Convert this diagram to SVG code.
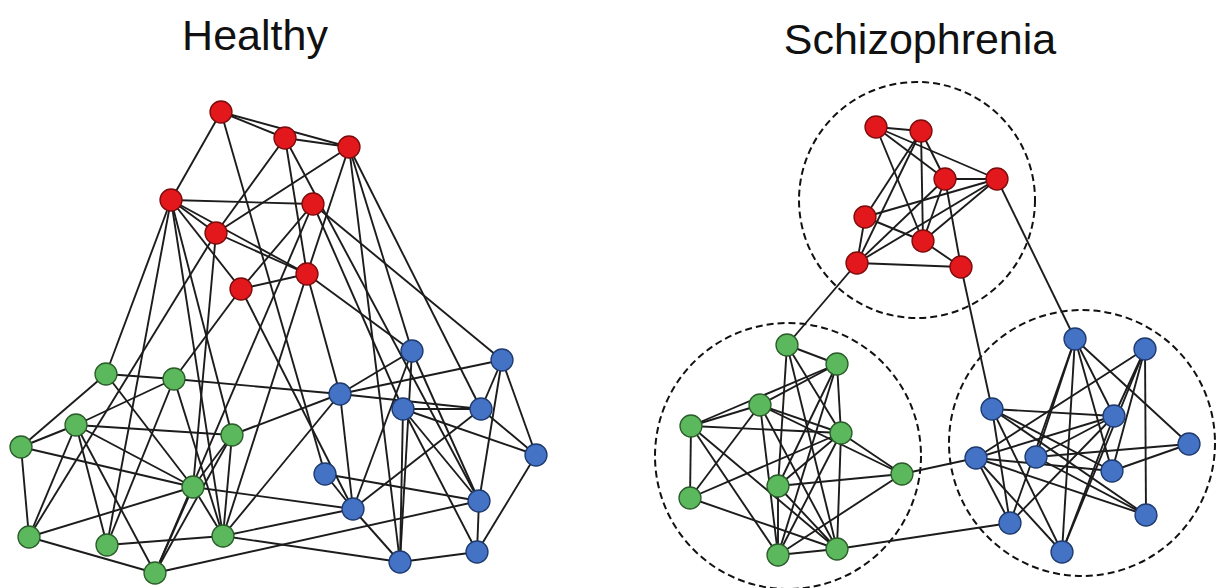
<svg xmlns="http://www.w3.org/2000/svg" width="1219" height="588" viewBox="0 0 1219 588">
<style>
.t{font-family:"Liberation Sans",Arial,sans-serif;font-size:43px;fill:#111}
.e line{stroke:#1c1c1c;stroke-width:1.9}
.r{fill:#e3181d;stroke:#7a0c0c;stroke-width:1.3}
.g{fill:#5cb85c;stroke:#2b5c2b;stroke-width:1.3}
.b{fill:#4472c4;stroke:#1e3a6e;stroke-width:1.3}
.c{fill:none;stroke:#111;stroke-width:2;stroke-dasharray:7 4}
</style>
<rect width="1219" height="588" fill="#fff"/>
<text class="t" x="255" y="50" text-anchor="middle">Healthy</text>
<text class="t" x="920" y="54" text-anchor="middle">Schizophrenia</text>
<g id="clusters">
<circle class="c" cx="917" cy="200" r="118"/>
<circle class="c" cx="788" cy="456" r="133"/>
<circle class="c" cx="1082" cy="443" r="133"/>
</g>
<g id="connectors" class="e">
<line x1="221" y1="112" x2="285" y2="138"/>
<line x1="221" y1="112" x2="349" y2="147"/>
<line x1="285" y1="138" x2="349" y2="147"/>
<line x1="221" y1="112" x2="171" y2="200"/>
<line x1="171" y1="200" x2="313" y2="204"/>
<line x1="171" y1="200" x2="216" y2="233"/>
<line x1="171" y1="200" x2="307" y2="274"/>
<line x1="216" y1="233" x2="307" y2="274"/>
<line x1="285" y1="138" x2="216" y2="233"/>
<line x1="349" y1="147" x2="216" y2="233"/>
<line x1="285" y1="138" x2="307" y2="274"/>
<line x1="349" y1="147" x2="307" y2="274"/>
<line x1="313" y1="204" x2="241" y2="289"/>
<line x1="307" y1="274" x2="241" y2="289"/>
<line x1="171" y1="200" x2="241" y2="289"/>
<line x1="221" y1="112" x2="325" y2="474"/>
<line x1="349" y1="147" x2="412" y2="351"/>
<line x1="349" y1="147" x2="481" y2="409"/>
<line x1="349" y1="147" x2="400" y2="562"/>
<line x1="313" y1="204" x2="502" y2="360"/>
<line x1="313" y1="204" x2="403" y2="409"/>
<line x1="307" y1="274" x2="412" y2="351"/>
<line x1="307" y1="274" x2="340" y2="394"/>
<line x1="241" y1="289" x2="353" y2="509"/>
<line x1="285" y1="138" x2="479" y2="501"/>
<line x1="171" y1="200" x2="106" y2="374"/>
<line x1="171" y1="200" x2="107" y2="545"/>
<line x1="171" y1="200" x2="223" y2="536"/>
<line x1="171" y1="200" x2="232" y2="435"/>
<line x1="216" y1="233" x2="29" y2="537"/>
<line x1="216" y1="233" x2="193" y2="487"/>
<line x1="241" y1="289" x2="174" y2="379"/>
<line x1="307" y1="274" x2="223" y2="536"/>
<line x1="313" y1="204" x2="155" y2="573"/>
<line x1="106" y1="374" x2="174" y2="379"/>
<line x1="106" y1="374" x2="21" y2="447"/>
<line x1="106" y1="374" x2="193" y2="487"/>
<line x1="76" y1="425" x2="21" y2="447"/>
<line x1="76" y1="425" x2="174" y2="379"/>
<line x1="76" y1="425" x2="232" y2="435"/>
<line x1="76" y1="425" x2="193" y2="487"/>
<line x1="76" y1="425" x2="29" y2="537"/>
<line x1="76" y1="425" x2="107" y2="545"/>
<line x1="76" y1="425" x2="155" y2="573"/>
<line x1="21" y1="447" x2="29" y2="537"/>
<line x1="21" y1="447" x2="193" y2="487"/>
<line x1="29" y1="537" x2="155" y2="573"/>
<line x1="29" y1="537" x2="193" y2="487"/>
<line x1="107" y1="545" x2="223" y2="536"/>
<line x1="107" y1="545" x2="174" y2="379"/>
<line x1="223" y1="536" x2="232" y2="435"/>
<line x1="223" y1="536" x2="174" y2="379"/>
<line x1="223" y1="536" x2="193" y2="487"/>
<line x1="155" y1="573" x2="193" y2="487"/>
<line x1="155" y1="573" x2="232" y2="435"/>
<line x1="193" y1="487" x2="232" y2="435"/>
<line x1="174" y1="379" x2="340" y2="394"/>
<line x1="232" y1="435" x2="340" y2="394"/>
<line x1="193" y1="487" x2="353" y2="509"/>
<line x1="223" y1="536" x2="353" y2="509"/>
<line x1="223" y1="536" x2="400" y2="562"/>
<line x1="155" y1="573" x2="479" y2="501"/>
<line x1="223" y1="536" x2="340" y2="394"/>
<line x1="412" y1="351" x2="340" y2="394"/>
<line x1="412" y1="351" x2="353" y2="509"/>
<line x1="412" y1="351" x2="400" y2="562"/>
<line x1="412" y1="351" x2="479" y2="501"/>
<line x1="502" y1="360" x2="481" y2="409"/>
<line x1="502" y1="360" x2="536" y2="455"/>
<line x1="502" y1="360" x2="479" y2="501"/>
<line x1="502" y1="360" x2="340" y2="394"/>
<line x1="340" y1="394" x2="481" y2="409"/>
<line x1="340" y1="394" x2="353" y2="509"/>
<line x1="403" y1="409" x2="481" y2="409"/>
<line x1="403" y1="409" x2="400" y2="562"/>
<line x1="403" y1="409" x2="479" y2="501"/>
<line x1="403" y1="409" x2="536" y2="455"/>
<line x1="403" y1="409" x2="477" y2="552"/>
<line x1="481" y1="409" x2="536" y2="455"/>
<line x1="481" y1="409" x2="353" y2="509"/>
<line x1="536" y1="455" x2="477" y2="552"/>
<line x1="325" y1="474" x2="353" y2="509"/>
<line x1="325" y1="474" x2="479" y2="501"/>
<line x1="353" y1="509" x2="400" y2="562"/>
<line x1="479" y1="501" x2="477" y2="552"/>
<line x1="400" y1="562" x2="477" y2="552"/>
<line x1="876" y1="127" x2="921" y2="131"/>
<line x1="876" y1="127" x2="945" y2="179"/>
<line x1="876" y1="127" x2="997" y2="179"/>
<line x1="876" y1="127" x2="923" y2="241"/>
<line x1="921" y1="131" x2="945" y2="179"/>
<line x1="921" y1="131" x2="923" y2="241"/>
<line x1="921" y1="131" x2="865" y2="217"/>
<line x1="921" y1="131" x2="857" y2="263"/>
<line x1="945" y1="179" x2="997" y2="179"/>
<line x1="945" y1="179" x2="857" y2="263"/>
<line x1="945" y1="179" x2="961" y2="267"/>
<line x1="945" y1="179" x2="923" y2="241"/>
<line x1="997" y1="179" x2="865" y2="217"/>
<line x1="997" y1="179" x2="923" y2="241"/>
<line x1="997" y1="179" x2="857" y2="263"/>
<line x1="865" y1="217" x2="923" y2="241"/>
<line x1="865" y1="217" x2="857" y2="263"/>
<line x1="923" y1="241" x2="961" y2="267"/>
<line x1="857" y1="263" x2="961" y2="267"/>
<line x1="857" y1="263" x2="787" y2="345"/>
<line x1="961" y1="267" x2="992" y2="409"/>
<line x1="997" y1="179" x2="1075" y2="339"/>
<line x1="902" y1="474" x2="976" y2="458"/>
<line x1="837" y1="549" x2="1010" y2="523"/>
<line x1="787" y1="345" x2="837" y2="364"/>
<line x1="787" y1="345" x2="778" y2="486"/>
<line x1="778" y1="486" x2="778" y2="555"/>
<line x1="787" y1="345" x2="837" y2="549"/>
<line x1="787" y1="345" x2="841" y2="433"/>
<line x1="837" y1="364" x2="760" y2="405"/>
<line x1="837" y1="364" x2="691" y2="426"/>
<line x1="837" y1="364" x2="841" y2="433"/>
<line x1="837" y1="364" x2="778" y2="555"/>
<line x1="837" y1="364" x2="778" y2="486"/>
<line x1="760" y1="405" x2="691" y2="426"/>
<line x1="760" y1="405" x2="841" y2="433"/>
<line x1="760" y1="405" x2="690" y2="498"/>
<line x1="760" y1="405" x2="778" y2="555"/>
<line x1="760" y1="405" x2="837" y2="549"/>
<line x1="760" y1="405" x2="902" y2="474"/>
<line x1="691" y1="426" x2="690" y2="498"/>
<line x1="691" y1="426" x2="841" y2="433"/>
<line x1="691" y1="426" x2="778" y2="555"/>
<line x1="691" y1="426" x2="837" y2="549"/>
<line x1="841" y1="433" x2="902" y2="474"/>
<line x1="841" y1="433" x2="690" y2="498"/>
<line x1="841" y1="433" x2="778" y2="486"/>
<line x1="841" y1="433" x2="778" y2="555"/>
<line x1="841" y1="433" x2="837" y2="549"/>
<line x1="902" y1="474" x2="778" y2="486"/>
<line x1="902" y1="474" x2="778" y2="555"/>
<line x1="778" y1="486" x2="837" y2="549"/>
<line x1="690" y1="498" x2="837" y2="549"/>
<line x1="778" y1="555" x2="837" y2="549"/>
<line x1="1075" y1="339" x2="1114" y2="416"/>
<line x1="1075" y1="339" x2="1112" y2="471"/>
<line x1="1075" y1="339" x2="1189" y2="444"/>
<line x1="1075" y1="339" x2="1062" y2="552"/>
<line x1="1075" y1="339" x2="1036" y2="457"/>
<line x1="1075" y1="339" x2="1010" y2="523"/>
<line x1="1145" y1="349" x2="1146" y2="515"/>
<line x1="1145" y1="349" x2="1114" y2="416"/>
<line x1="1145" y1="349" x2="1112" y2="471"/>
<line x1="1145" y1="349" x2="976" y2="458"/>
<line x1="1145" y1="349" x2="1062" y2="552"/>
<line x1="992" y1="409" x2="1114" y2="416"/>
<line x1="992" y1="409" x2="1112" y2="471"/>
<line x1="992" y1="409" x2="1146" y2="515"/>
<line x1="992" y1="409" x2="1010" y2="523"/>
<line x1="992" y1="409" x2="1062" y2="552"/>
<line x1="1114" y1="416" x2="976" y2="458"/>
<line x1="1114" y1="416" x2="1036" y2="457"/>
<line x1="1114" y1="416" x2="1010" y2="523"/>
<line x1="1114" y1="416" x2="1062" y2="552"/>
<line x1="1189" y1="444" x2="1036" y2="457"/>
<line x1="1189" y1="444" x2="1112" y2="471"/>
<line x1="976" y1="458" x2="1146" y2="515"/>
<line x1="976" y1="458" x2="1112" y2="471"/>
<line x1="976" y1="458" x2="1062" y2="552"/>
<line x1="976" y1="458" x2="1010" y2="523"/>
<line x1="1036" y1="457" x2="1146" y2="515"/>
</g>
<g id="nodes">
<g id="hR1"><circle class="r" cx="221" cy="112" r="11"/></g>
<g id="hR2"><circle class="r" cx="285" cy="138" r="11"/></g>
<g id="hR3"><circle class="r" cx="349" cy="147" r="11"/></g>
<g id="hR4"><circle class="r" cx="171" cy="200" r="11"/></g>
<g id="hR5"><circle class="r" cx="313" cy="204" r="11"/></g>
<g id="hR6"><circle class="r" cx="216" cy="233" r="11"/></g>
<g id="hR7"><circle class="r" cx="307" cy="274" r="11"/></g>
<g id="hR8"><circle class="r" cx="241" cy="289" r="11"/></g>
<g id="hG1"><circle class="g" cx="106" cy="374" r="11"/></g>
<g id="hG2"><circle class="g" cx="174" cy="379" r="11"/></g>
<g id="hG3"><circle class="g" cx="76" cy="425" r="11"/></g>
<g id="hG4"><circle class="g" cx="21" cy="447" r="11"/></g>
<g id="hG5"><circle class="g" cx="232" cy="435" r="11"/></g>
<g id="hG6"><circle class="g" cx="193" cy="487" r="11"/></g>
<g id="hG7"><circle class="g" cx="29" cy="537" r="11"/></g>
<g id="hG8"><circle class="g" cx="107" cy="545" r="11"/></g>
<g id="hG9"><circle class="g" cx="223" cy="536" r="11"/></g>
<g id="hG10"><circle class="g" cx="155" cy="573" r="11"/></g>
<g id="hB1"><circle class="b" cx="412" cy="351" r="11"/></g>
<g id="hB2"><circle class="b" cx="502" cy="360" r="11"/></g>
<g id="hB3"><circle class="b" cx="340" cy="394" r="11"/></g>
<g id="hB4"><circle class="b" cx="403" cy="409" r="11"/></g>
<g id="hB5"><circle class="b" cx="481" cy="409" r="11"/></g>
<g id="hB6"><circle class="b" cx="536" cy="455" r="11"/></g>
<g id="hB7"><circle class="b" cx="325" cy="474" r="11"/></g>
<g id="hB8"><circle class="b" cx="353" cy="509" r="11"/></g>
<g id="hB9"><circle class="b" cx="479" cy="501" r="11"/></g>
<g id="hB10"><circle class="b" cx="400" cy="562" r="11"/></g>
<g id="hB11"><circle class="b" cx="477" cy="552" r="11"/></g>
<g id="sR1"><circle class="r" cx="876" cy="127" r="11"/></g>
<g id="sR2"><circle class="r" cx="921" cy="131" r="11"/></g>
<g id="sR3"><circle class="r" cx="945" cy="179" r="11"/></g>
<g id="sR4"><circle class="r" cx="997" cy="179" r="11"/></g>
<g id="sR5"><circle class="r" cx="865" cy="217" r="11"/></g>
<g id="sR6"><circle class="r" cx="923" cy="241" r="11"/></g>
<g id="sR7"><circle class="r" cx="857" cy="263" r="11"/></g>
<g id="sR8"><circle class="r" cx="961" cy="267" r="11"/></g>
<g id="sG1"><circle class="g" cx="787" cy="345" r="11"/></g>
<g id="sG2"><circle class="g" cx="837" cy="364" r="11"/></g>
<g id="sG3"><circle class="g" cx="760" cy="405" r="11"/></g>
<g id="sG4"><circle class="g" cx="691" cy="426" r="11"/></g>
<g id="sG5"><circle class="g" cx="841" cy="433" r="11"/></g>
<g id="sG6"><circle class="g" cx="902" cy="474" r="11"/></g>
<g id="sG7"><circle class="g" cx="778" cy="486" r="11"/></g>
<g id="sG8"><circle class="g" cx="690" cy="498" r="11"/></g>
<g id="sG9"><circle class="g" cx="778" cy="555" r="11"/></g>
<g id="sG10"><circle class="g" cx="837" cy="549" r="11"/></g>
<g id="sB1"><circle class="b" cx="1075" cy="339" r="11"/></g>
<g id="sB2"><circle class="b" cx="1145" cy="349" r="11"/></g>
<g id="sB3"><circle class="b" cx="992" cy="409" r="11"/></g>
<g id="sB4"><circle class="b" cx="1114" cy="416" r="11"/></g>
<g id="sB5"><circle class="b" cx="1189" cy="444" r="11"/></g>
<g id="sB6"><circle class="b" cx="976" cy="458" r="11"/></g>
<g id="sB7"><circle class="b" cx="1036" cy="457" r="11"/></g>
<g id="sB8"><circle class="b" cx="1112" cy="471" r="11"/></g>
<g id="sB9"><circle class="b" cx="1146" cy="515" r="11"/></g>
<g id="sB10"><circle class="b" cx="1010" cy="523" r="11"/></g>
<g id="sB11"><circle class="b" cx="1062" cy="552" r="11"/></g>
</g>
</svg>
